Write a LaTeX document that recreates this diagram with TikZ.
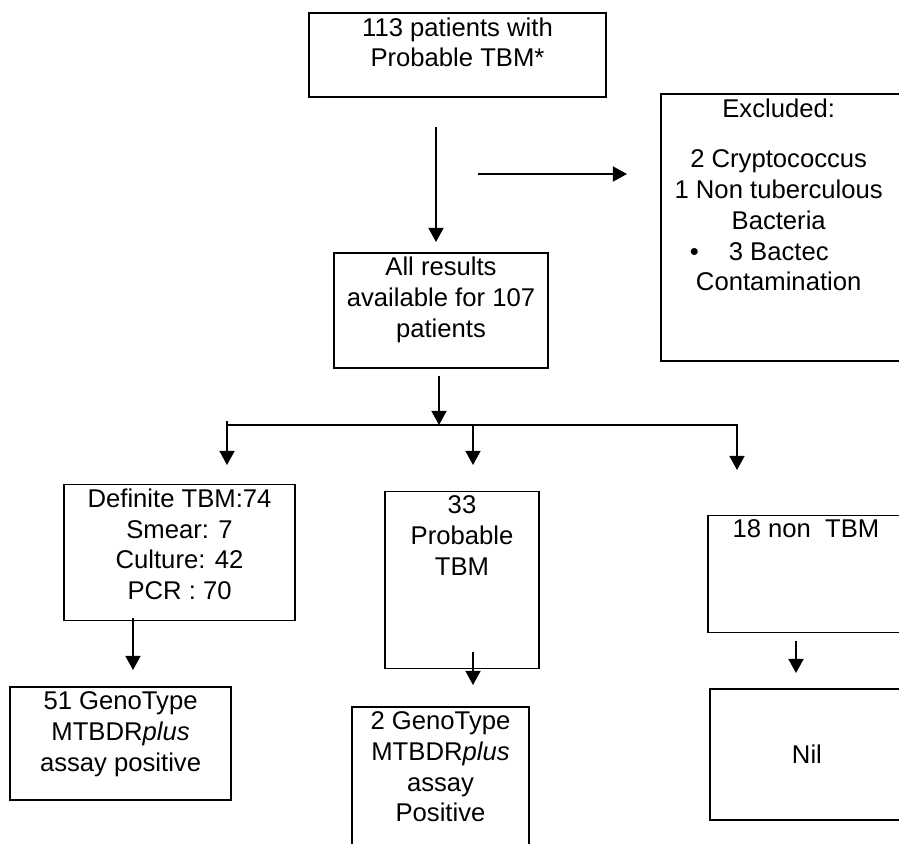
\documentclass[tikz,border=0pt]{standalone}
\usepackage{fontspec}
\setmainfont{Liberation Sans}
\usetikzlibrary{shapes, arrows.meta, positioning}

\begin{document}
\begin{tikzpicture}[
    x=0.02cm, y=-0.02cm,
    font=\fontsize{14.6pt}{17.5pt}\selectfont,
    box/.style={rectangle, draw, line width=1pt, inner sep=0pt},
    boxtext/.style={anchor=north, align=center, inner sep=0pt, yshift=-0.1cm},
    arrow/.style={-{Triangle[width=8.5pt,length=8pt]}, line width=1pt},
    link/.style={line width=1pt}
    ]
    \useasboundingbox (0,0) rectangle (899,843);
    \clip (0,0) rectangle (899,843);

    % Enrolled patients
    \node (entry) [box, minimum width=5.94cm, minimum height=1.68cm,
        label={[boxtext]north:{113 patients with\\Probable TBM*}}] at (457.5,55) {};

    % Excluded patients
    \node (excluded) [box, right=1.06cm of entry, yshift=-3.45cm,
        minimum width=4.92cm, minimum height=5.34cm,
        label={[boxtext, xshift=-0.1cm]north:{Excluded:\\[0.4cm]2 Cryptococcus\\1 Non tuberculous\\Bacteria\\\makebox[0pt][r]{\textbullet\hspace{0.6cm}}3 Bactec\\Contamination}}] {};

    % Patients with all results
    \node (allres) [box, below=3.08cm of entry, xshift=-0.33cm,
        minimum width=4.28cm, minimum height=2.3cm,
        label={[boxtext]north:{All results\\available for 107\\patients}}] {};

    % Diagnostic groups
    \node (definite) [box, below=2.3cm of allres, xshift=-5.23cm,
        minimum width=4.62cm, minimum height=2.72cm,
        label={[boxtext]north:{Definite TBM:74\\Smear: 7\\Culture: 42\\PCR : 70}}] {};
    \node (probable) [box, below=2.44cm of allres, xshift=0.42cm,
        minimum width=3.08cm, minimum height=3.54cm,
        label={[boxtext]north:{33\\Probable\\TBM}}] {};
    \node (nontbm) [box, below=2.92cm of allres, xshift=7.3cm,
        minimum width=3.92cm, minimum height=2.34cm,
        label={[boxtext]north:{18 non\ \ TBM}}] {};

    % GenoType results
    \node (genodef) [box, below=1.3cm of definite, xshift=-1.18cm,
        minimum width=4.42cm, minimum height=2.26cm,
        label={[boxtext]north:{51 GenoType\\MTBDR\textit{plus}\\assay positive}}] {};
    \node (genoprob) [box, below=0.74cm of probable, xshift=-0.43cm,
        minimum width=3.54cm, minimum height=3.16cm,
        label={[boxtext]north:{2 GenoType\\MTBDR\textit{plus}\\assay\\Positive}}] {};
    \node (genonon) [box, below=1.1cm of nontbm, xshift=0.02cm,
        minimum width=3.88cm, minimum height=2.62cm] {Nil};

    % Arrow end points
    \coordinate (d1s) at (436,127);
    \coordinate (d1e) at (436,242);
    \coordinate (x1s) at (478,174);
    \coordinate (x1e) at (627,174);
    \coordinate (d2s) at (439,376);
    \coordinate (split) at (439,425);
    \coordinate (lftop) at (227,421);
    \coordinate (lftip) at (227,465);
    \coordinate (mdtip) at (473,465);
    \coordinate (rttip) at (737,470);
    \coordinate (g1s) at (133,618);
    \coordinate (g1e) at (133,670);
    \coordinate (g2s) at (473,652);
    \coordinate (g2e) at (473,685);
    \coordinate (g3s) at (796,641);
    \coordinate (g3e) at (796,673);

    % Flow arrows
    \draw[arrow] (d1s) -- (d1e);
    \draw[arrow] (x1s) -- (x1e);
    \draw[arrow] (d2s) -- (split);
    \draw[link] (split) -- (split -| lftop);
    \draw[arrow] (lftop) -- (lftip);
    \draw[arrow] (split -| mdtip) -- (mdtip);
    \draw[arrow] (split) -- (split -| rttip) -- (rttip);
    \draw[arrow] (g1s) -- (g1e);
    \draw[arrow] (g2s) -- (g2e);
    \draw[arrow] (g3s) -- (g3e);
\end{tikzpicture}
\end{document}
